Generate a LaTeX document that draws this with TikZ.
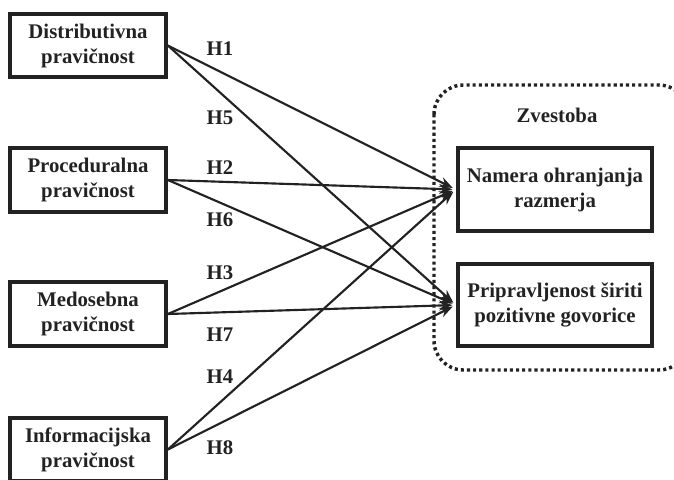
\documentclass[tikz,border=0pt]{standalone}
\usepackage{fontspec}
\setmainfont{Liberation Serif}
\usetikzlibrary{arrows.meta}
\definecolor{ink}{HTML}{222222}
\tikzset{
  box/.style={draw=ink, text=ink, line width=2.8pt, minimum width=117pt, minimum height=47.6pt,
    align=center, inner sep=2pt, font=\bfseries\fontsize{15.6}{18.75}\selectfont},
  bigbox/.style={box, minimum width=146pt, minimum height=62pt},
  hlabel/.style={text=ink, font=\bfseries\fontsize{15.6}{18}\selectfont},
  arr/.style={draw=ink, line width=1.6pt, -{Stealth[length=10pt,width=7.5pt]}, shorten >=2.5pt},
  grp/.style={draw=ink, line width=2.6pt, dash pattern=on 2.3pt off 2.3pt, rounded corners=22pt}
}
\begin{document}
\begin{tikzpicture}[x=0.75pt,y=-0.75pt]
    \clip (0,0) rectangle (674,479);
    %% left side
    \node[box] (dist) at (88,45.5) {Distributivna\\pravičnost};
    \node[box] (proc) at (88,180) {Proceduralna\\pravičnost};
    \node[box] (medo) at (88,314) {Medosebna\\pravičnost};
    \node[box] (info) at (88,449.5) {Informacijska\\pravičnost};
    %% right side
    \draw[grp] (434,85) rectangle (688,370);
    \node[hlabel] (zvest) at (557,115) {Zvestoba};
    \node[bigbox] (namera) at (555,189.5) {Namera ohranjanja\\razmerja};
    \node[bigbox] (pripr) at (555,305) {Pripravljenost širiti\\pozitivne govorice};
    %% hypotheses
    \draw[arr] (dist.east) -- (namera.west);
    \draw[arr] (dist.east) -- (pripr.west);
    \draw[arr] (proc.east) -- (namera.west);
    \draw[arr] (proc.east) -- (pripr.west);
    \draw[arr] (medo.east) -- (namera.west);
    \draw[arr] (medo.east) -- (pripr.west);
    \draw[arr] (info.east) -- (namera.west);
    \draw[arr] (info.east) -- (pripr.west);
    \node[hlabel] (h1) at (220,49) {H1};
    \node[hlabel] (h5) at (220,118) {H5};
    \node[hlabel] (h2) at (220,168) {H2};
    \node[hlabel] (h6) at (220,220) {H6};
    \node[hlabel] (h3) at (220,273) {H3};
    \node[hlabel] (h7) at (220,335) {H7};
    \node[hlabel] (h4) at (220,377) {H4};
    \node[hlabel] (h8) at (220,448) {H8};
\end{tikzpicture}
\end{document}
